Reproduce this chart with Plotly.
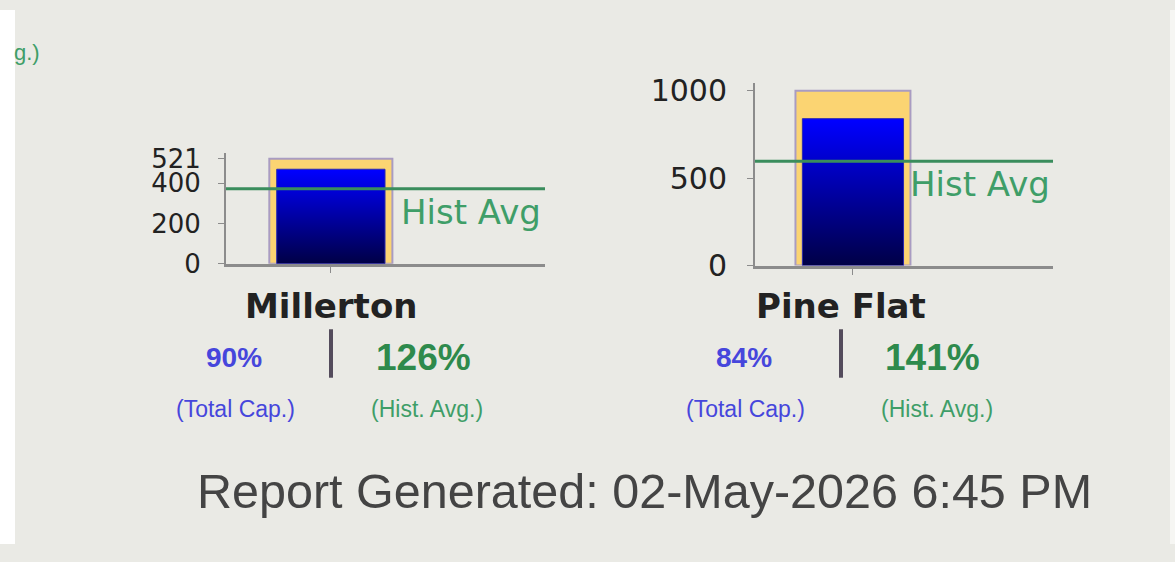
import plotly.graph_objects as go

# 水库数据 (千英亩英尺)
reservoirs = ['Millerton', 'Pine Flat']
capacity = [521, 1000]
storage = [469, 840]
hist_avg = [372, 596]
pct_capacity = ['90%', '84%']
pct_hist = ['126%', '141%']
ytick_vals = [[0, 200, 400, 521], [0, 500, 1000]]
report_text = 'Report Generated: 02-May-2026 6:45 PM'

W, H = 1175, 562
BG = '#eaeae5'
COLORS = {
    'cap': '#fbd472',
    'cap_line': '#a99cc2',
    'hist': '#3a8d5c',
    'hist_text': '#3f9e68',
    'blue_txt': '#4646dc',
    'green_txt': '#2e8a4c',
    'axis': '#8c8c8c',
}

# 每个子图的像素位置: x轴左右, y轴底部/顶部, 刻度字号
panels = [
    dict(x0=226, x1=545, y0=267, y1=150, ymax=552, cx=331, tick=26, standoff=12),
    dict(x0=755, x1=1053, y0=269, y1=77, ymax=1043, cx=841, tick=30, standoff=14),
]


def px(x, y):
    return x / W, 1 - y / H


fig = go.Figure()

for i, name in enumerate(reservoirs):
    xa = 'x' if i == 0 else 'x2'
    ya = 'y' if i == 0 else 'y2'
    # 总库容框
    fig.add_trace(go.Bar(
        x=[0], y=[capacity[i]], width=1,
        marker=dict(color=COLORS['cap'], line=dict(color=COLORS['cap_line'], width=2)),
        xaxis=xa, yaxis=ya, showlegend=False, hoverinfo='skip'
    ))
    # 当前蓄水 (渐变)
    hw = 0.44
    fig.add_trace(go.Scatter(
        x=[-hw, hw, hw, -hw, -hw],
        y=[0, 0, storage[i], storage[i], 0],
        mode='lines', fill='toself',
        line=dict(color='#2a2ab0', width=1),
        fillgradient=dict(type='vertical', start=0, stop=storage[i],
                          colorscale=[[0, '#00003a'], [1, '#0000ff']]),
        xaxis=xa, yaxis=ya, showlegend=False, hoverinfo='skip'
    ))
    # 历史均值线
    fig.add_shape(type='line', xref=f'{xa} domain', yref=ya,
                  x0=0, x1=1, y0=hist_avg[i], y1=hist_avg[i],
                  line=dict(color=COLORS['hist'], width=3))
    fig.add_annotation(text='Hist Avg', xref=f'{xa} domain', yref=ya,
                       x=0.995, y=hist_avg[i], xanchor='right', yanchor='top',
                       showarrow=False, yshift=-1,
                       font=dict(family='DejaVu Sans', size=34, color=COLORS['hist_text']))

    p = panels[i]
    xax = dict(domain=[p['x0'] / W, p['x1'] / W], range=[-0.852, 1.74],
               showline=True, linecolor=COLORS['axis'], linewidth=3,
               ticks='outside', tickvals=[0], ticktext=[''], ticklen=6,
               tickcolor=COLORS['axis'], showgrid=False, zeroline=False, fixedrange=True,
               anchor=ya)
    yax = dict(domain=[1 - p['y0'] / H, 1 - p['y1'] / H], range=[0, p['ymax']],
               showline=True, linecolor=COLORS['axis'], linewidth=2,
               ticks='outside', tickvals=ytick_vals[i], ticklen=6, tickcolor=COLORS['axis'],
               ticklabelstandoff=p['standoff'],
               tickfont=dict(family='DejaVu Sans', size=p['tick'], color='#222222'),
               showgrid=False, zeroline=False, fixedrange=True, anchor=xa)
    if i == 0:
        fig.update_layout(xaxis=xax, yaxis=yax)
    else:
        fig.update_layout(xaxis2=xax, yaxis2=yax)

    # 下方文字
    cx = p['cx']
    ann = [
        (name, cx, 311, 34, '#222222', True, 'DejaVu Sans'),
        (pct_capacity[i], cx - 97, 366, 28, COLORS['blue_txt'], True, 'Liberation Sans'),
        (pct_hist[i], cx + 92, 366, 37, COLORS['green_txt'], True, 'Liberation Sans'),
        ('(Total Cap.)', cx - 96, 420, 23, COLORS['blue_txt'], False, 'Liberation Sans'),
        ('(Hist. Avg.)', cx + 96, 420, 23, COLORS['hist_text'], False, 'Liberation Sans'),
    ]
    for txt, x, y, size, col, bold, fam in ann:
        ax_, ay_ = px(x, y)
        fig.add_annotation(text=f'<b>{txt}</b>' if bold else txt, xref='paper', yref='paper',
                           x=ax_, y=ay_, xanchor='center', yanchor='middle', showarrow=False,
                           font=dict(family=fam, size=size, color=col))
    # 分隔竖线
    fig.add_shape(type='line', xref='paper', yref='paper',
                  x0=cx / W, x1=cx / W, y0=1 - 336 / H, y1=1 - 387 / H,
                  line=dict(color='#544c5c', width=4))

# 左上角被截断的文字
gx, gy = px(42, 45)
fig.add_annotation(text='g.)', xref='paper', yref='paper', x=gx, y=gy,
                   xanchor='right', yanchor='middle', showarrow=False,
                   font=dict(family='Liberation Sans', size=22, color=COLORS['hist_text']))

# 报告生成时间
rx, ry = px(644, 506)
fig.add_annotation(text=report_text, xref='paper', yref='paper', x=rx, y=ry,
                   xanchor='center', yanchor='middle', showarrow=False,
                   font=dict(family='Liberation Sans', size=48.5, color='#444444'))

# 左右白边 (左侧覆盖在文字之上, 截断 "g.)")
fig.add_shape(type='rect', xref='paper', yref='paper', x0=0, x1=15 / W, y0=0, y1=1,
              fillcolor='white', line=dict(width=0), layer='above')
fig.add_shape(type='rect', xref='paper', yref='paper', x0=1170 / W, x1=1, y0=0, y1=1,
              fillcolor='#f6f6f3', line=dict(width=0), layer='below')

fig.update_layout(
    width=W, height=H, autosize=False,
    margin=dict(l=0, r=0, t=0, b=0),
    paper_bgcolor=BG, plot_bgcolor='rgba(0,0,0,0)',
    showlegend=False, barmode='overlay',
)

fig.write_html('out.html', config={'displayModeBar': False},
               post_script="document.body.style.margin='0px';"
                           "document.body.style.overflow='hidden';")
